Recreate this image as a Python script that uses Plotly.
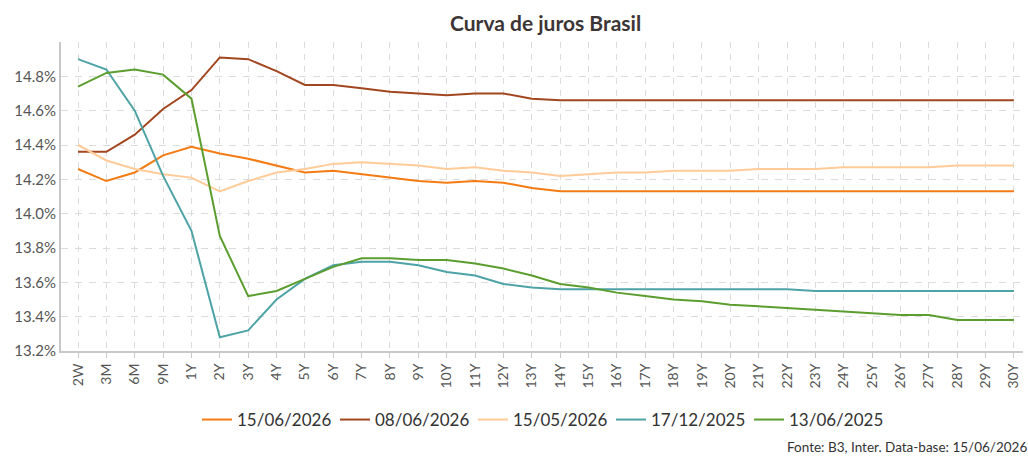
import plotly.graph_objects as go

categories = ["2W", "3M", "6M", "9M"] + [f"{i}Y" for i in range(1, 31)]

s_15_06_2026 = [14.26, 14.19, 14.24, 14.34, 14.39, 14.35, 14.32, 14.28, 14.24, 14.25,
                14.23, 14.21, 14.19, 14.18, 14.19, 14.18, 14.15, 14.13, 14.13, 14.13,
                14.13, 14.13, 14.13, 14.13, 14.13, 14.13, 14.13, 14.13, 14.13, 14.13,
                14.13, 14.13, 14.13, 14.13]
s_08_06_2026 = [14.36, 14.36, 14.46, 14.61, 14.72, 14.91, 14.90, 14.83, 14.75, 14.75,
                14.73, 14.71, 14.70, 14.69, 14.70, 14.70, 14.67, 14.66, 14.66, 14.66,
                14.66, 14.66, 14.66, 14.66, 14.66, 14.66, 14.66, 14.66, 14.66, 14.66,
                14.66, 14.66, 14.66, 14.66]
s_15_05_2026 = [14.40, 14.31, 14.26, 14.23, 14.21, 14.13, 14.19, 14.24, 14.26, 14.29,
                14.30, 14.29, 14.28, 14.26, 14.27, 14.25, 14.24, 14.22, 14.23, 14.24,
                14.24, 14.25, 14.25, 14.25, 14.26, 14.26, 14.26, 14.27, 14.27, 14.27,
                14.27, 14.28, 14.28, 14.28]
s_17_12_2025 = [14.90, 14.84, 14.60, 14.22, 13.90, 13.28, 13.32, 13.50, 13.62, 13.70,
                13.72, 13.72, 13.70, 13.66, 13.64, 13.59, 13.57, 13.56, 13.56, 13.56,
                13.56, 13.56, 13.56, 13.56, 13.56, 13.56, 13.55, 13.55, 13.55, 13.55,
                13.55, 13.55, 13.55, 13.55]
s_13_06_2025 = [14.74, 14.82, 14.84, 14.81, 14.67, 13.87, 13.52, 13.55, 13.62, 13.69,
                13.74, 13.74, 13.73, 13.73, 13.71, 13.68, 13.64, 13.59, 13.57, 13.54,
                13.52, 13.50, 13.49, 13.47, 13.46, 13.45, 13.44, 13.43, 13.42, 13.41,
                13.41, 13.38, 13.38, 13.38]

series = [
    ("15/06/2026", s_15_06_2026, "#F47B13"),
    ("08/06/2026", s_08_06_2026, "#A2461F"),
    ("15/05/2026", s_15_05_2026, "#FFCB99"),
    ("17/12/2025", s_17_12_2025, "#4EA3A6"),
    ("13/06/2025", s_13_06_2025, "#5B9E2F"),
]

y_ticks = [13.2, 13.4, 13.6, 13.8, 14.0, 14.2, 14.4, 14.6, 14.8]

W, H = 1028, 456
L, R, T, B = 61, 5, 42, 105
PW = W - L - R

fig = go.Figure()
for name, vals, color in series:
    fig.add_trace(go.Scatter(x=categories, y=vals, name=name, mode="lines",
                             line=dict(color=color, width=2)))

fig.update_layout(
    width=W, height=H,
    margin=dict(l=L, r=R, t=T, b=B, autoexpand=False),
    paper_bgcolor="white", plot_bgcolor="white",
    font=dict(family="Lato", color="#555"),
    showlegend=True,
    legend=dict(orientation="h", x=197 / W, xanchor="left", xref="container",
                y=1 - 420 / H, yanchor="middle", yref="container",
                font=dict(size=17, color="#333"), itemwidth=30,
                entrywidth=93, entrywidthmode="pixels"),
    annotations=[
        dict(text="<b>Curva de juros Brasil</b>", x=(545 - L) / PW, y=1, xref="paper", yref="paper",
             xanchor="center", yanchor="middle", yshift=20, showarrow=False,
             font=dict(size=21, color="#3d3535", family="Lato")),
        dict(text="Fonte: B3, Inter. Data-base: 15/06/2026", x=(785 - L) / PW, y=0, xref="paper",
             yref="paper", xanchor="left", yanchor="middle", yshift=-96, showarrow=False,
             font=dict(size=13.5, color="#333", family="Lato")),
    ],
)
fig.update_xaxes(
    type="category", range=[-0.6, 33.32], tickangle=-90, automargin=False,
    showgrid=True, gridcolor="#dcdcdc", griddash="6px,6px", gridwidth=1,
    showline=True, linecolor="#c8c8c8", linewidth=2,
    ticks="outside", ticklen=5, tickcolor="#c8c8c8",
    tickfont=dict(size=14, color="#555"), zeroline=False,
)
fig.update_yaxes(
    range=[13.2, 15.0], tickvals=y_ticks, ticktext=[f"{v:.1f}%" for v in y_ticks],
    automargin=False,
    showgrid=True, gridcolor="#dcdcdc", griddash="7px,7px", gridwidth=1,
    showline=True, linecolor="#c8c8c8", linewidth=2,
    ticks="", tickfont=dict(size=15, color="#555"), zeroline=False,
)

fig.write_html("out.html", config={"displayModeBar": False},
               post_script="document.body.style.margin='0';document.body.style.overflow='hidden';")
